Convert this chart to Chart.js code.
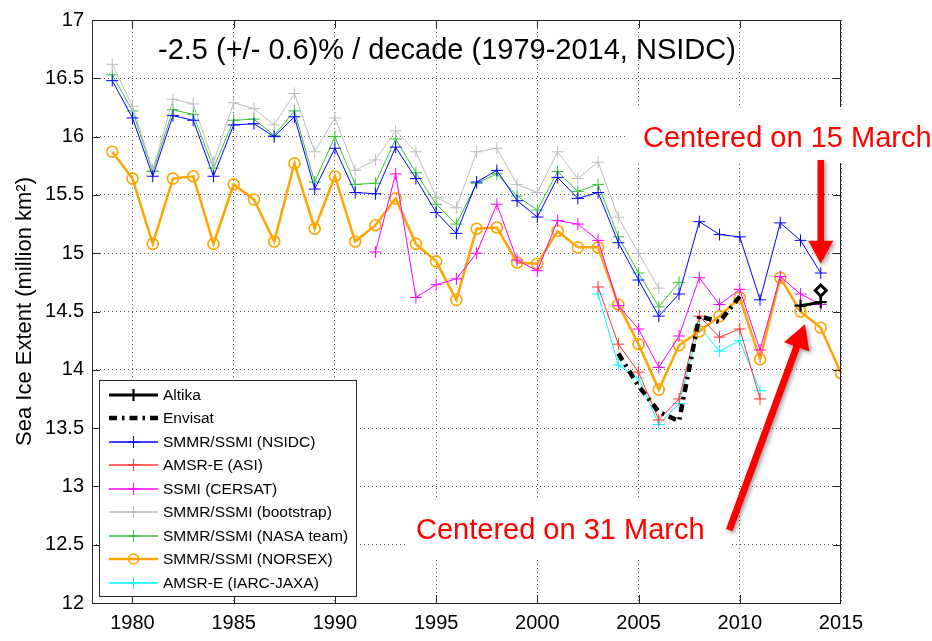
<!DOCTYPE html>
<html>
<head>
<meta charset="utf-8">
<script src="https://cdn.jsdelivr.net/npm/chart.js@4/dist/chart.umd.min.js"></script>
<style>
  html, body { margin: 0; padding: 0; background: #fff; }
  canvas { display: block; }
</style>
</head>
<body>
<canvas id="c" width="932" height="641"></canvas>
<script>
// March sea ice extent (million km²), one value per year
const years = [1979, 1980, 1981, 1982, 1983, 1984, 1985, 1986, 1987, 1988,
               1989, 1990, 1991, 1992, 1993, 1994, 1995, 1996, 1997, 1998,
               1999, 2000, 2001, 2002, 2003, 2004, 2005, 2006, 2007, 2008,
               2009, 2010, 2011, 2012, 2013, 2014, 2015];

const xTicks = [1980, 1985, 1990, 1995, 2000, 2005, 2010, 2015];
const yTicks = [12, 12.5, 13, 13.5, 14, 14.5, 15, 15.5, 16, 16.5, 17];

// 1979–2014
const nsidc = [16.48, 16.16, 15.66, 16.18, 16.14, 15.66, 16.10, 16.11, 16.00, 16.17,
               15.55, 15.90, 15.52, 15.51, 15.91, 15.64, 15.35, 15.17, 15.61, 15.71,
               15.45, 15.31, 15.65, 15.47, 15.52, 15.09, 14.77, 14.46, 14.65, 15.27,
               15.16, 15.14, 14.60, 15.26, 15.11, 14.83];
// 2003–2011
const amsrAsi = [14.71, 14.22, 13.98, 13.57, 13.75, 14.46, 14.28, 14.35, 13.75];
// 1992–2014
const cersat = [15.01, 15.68, 14.62, 14.73, 14.78, 15.00, 15.42, 14.94, 14.85, 15.28,
                15.25, 15.11, 14.55, 14.35, 14.02, 14.29, 14.79, 14.56, 14.69, 14.17,
                14.80, 14.65, 14.56];
// 1979–2006
const bootstrap = [16.62, 16.26, 15.71, 16.32, 16.28, 15.78, 16.29, 16.24, 16.10, 16.37,
                   15.87, 16.16, 15.71, 15.80, 16.05, 15.87, 15.48, 15.39, 15.87, 15.90,
                   15.59, 15.52, 15.87, 15.64, 15.78, 15.31, 15.00, 14.70];
// 1979–2007
const nasaTeam = [16.53, 16.22, 15.70, 16.23, 16.19, 15.73, 16.14, 16.15, 16.01, 16.22,
                  15.61, 16.00, 15.59, 15.60, 15.98, 15.69, 15.42, 15.25, 15.60, 15.68,
                  15.49, 15.37, 15.70, 15.53, 15.59, 15.14, 14.83, 14.54, 14.75];
// 1979–2015
const norsex = [15.87, 15.64, 15.08, 15.64, 15.66, 15.08, 15.59, 15.46, 15.10, 15.77,
                15.21, 15.66, 15.10, 15.24, 15.47, 15.08, 14.93, 14.60, 15.21, 15.22,
                14.92, 14.91, 15.19, 15.05, 15.05, 14.56, 14.22, 13.83, 14.21, 14.33,
                14.46, 14.62, 14.09, 14.79, 14.50, 14.36, 13.97];
// 2003–2011
const amsrJaxa = [14.65, 14.04, 13.93, 13.53, 13.71, 14.37, 14.16, 14.25, 13.82];
// 2004–2010
const envisat = [14.14, 13.86, 13.64, 13.56, 14.46, 14.41, 14.63];
// 2013–2014 (31 March)
const altika = [14.55, 14.58];
// 2014: 31 March value, then 15 March value
const altikaMidYears = [2014, 2014];
const altikaMid = [14.58, 14.68];

function series(startYear, values) {
  const i0 = years.indexOf(startYear);
  return values.map((v, i) => ({ x: years[i0 + i], y: v }));
}

const FONT = '"Liberation Sans", Arial, Helvetica, sans-serif';

function line(label, color, data, extra) {
  return Object.assign({
    label,
    data,
    borderColor: color,
    backgroundColor: color,
    borderWidth: 1,
    pointStyle: 'cross',
    pointRadius: 6,
    pointBorderWidth: 1,
    pointBorderColor: color,
    tension: 0,
    fill: false,
    showLine: true
  }, extra || {});
}

const datasets = [
  line('Altika', '#000000', series(2013, altika), { borderWidth: 3, pointBorderWidth: 2.2, order: 0 }),
  line('Envisat', '#000000', series(2004, envisat), {
    borderWidth: 4.5, borderDash: [8, 5, 2.5, 5], pointRadius: 0, legendMarker: false, order: 2
  }),
  line('SMMR/SSMI (NSIDC)', '#0000ff', series(1979, nsidc), { order: 2 }),
  line('AMSR-E (ASI)', '#ff3333', series(2003, amsrAsi), { order: 2 }),
  line('SSMI (CERSAT)', '#ff00ff', series(1992, cersat), { order: 2 }),
  line('SMMR/SSMI (bootstrap)', '#bdbdbd', series(1979, bootstrap), { order: 2 }),
  line('SMMR/SSMI (NASA team)', '#33c433', series(1979, nasaTeam), { order: 2 }),
  line('SMMR/SSMI (NORSEX)', '#ffa500', series(1979, norsex), {
    borderWidth: 2.5, pointStyle: 'circle', pointRadius: 5.5, pointBorderWidth: 1.6,
    backgroundColor: 'rgba(0,0,0,0)', order: 2
  }),
  line('AMSR-E (IARC-JAXA)', '#00ffff', series(2003, amsrJaxa), { order: 2 }),
  line('Altika 15 March', '#000000',
       altikaMid.map((v, i) => ({ x: altikaMidYears[i], y: v })), {
    borderWidth: 2.5, pointStyle: 'rectRot', pointRadius: [0, 5.5],
    pointBorderWidth: 3, backgroundColor: '#ffffff', inLegend: false, order: 1
  })
];

function drawMarker(ctx, style, x, y, r, color, w) {
  ctx.save();
  ctx.strokeStyle = color;
  ctx.lineWidth = w;
  ctx.setLineDash([]);
  ctx.beginPath();
  if (style === 'circle') {
    ctx.arc(x, y, r, 0, Math.PI * 2);
  } else {
    ctx.moveTo(x - r, y); ctx.lineTo(x + r, y);
    ctx.moveTo(x, y - r); ctx.lineTo(x, y + r);
  }
  ctx.stroke();
  ctx.restore();
}

function arrow(ctx, x0, y0, x1, y1, shaftW, headL, headW) {
  const dx = x1 - x0, dy = y1 - y0, L = Math.hypot(dx, dy);
  const ux = dx / L, uy = dy / L, nx = -uy, ny = ux;
  const bx = x1 - ux * headL, by = y1 - uy * headL;
  ctx.beginPath();
  ctx.moveTo(x0 + nx * shaftW / 2, y0 + ny * shaftW / 2);
  ctx.lineTo(bx + nx * shaftW / 2, by + ny * shaftW / 2);
  ctx.lineTo(bx + nx * headW / 2, by + ny * headW / 2);
  ctx.lineTo(x1, y1);
  ctx.lineTo(bx - nx * headW / 2, by - ny * headW / 2);
  ctx.lineTo(bx - nx * shaftW / 2, by - ny * shaftW / 2);
  ctx.lineTo(x0 - nx * shaftW / 2, y0 - ny * shaftW / 2);
  ctx.closePath();
  ctx.fill();
}

const decor = {
  id: 'decor',
  beforeDraw(chart) {
    const c = chart.ctx;
    c.save();
    c.fillStyle = '#ffffff';
    c.fillRect(0, 0, chart.width, chart.height);
    c.restore();
  },
  afterDraw(chart) {
    const ctx = chart.ctx, a = chart.chartArea;
    const xs = chart.scales.x, ys = chart.scales.y;
    ctx.save();

    // inward tick marks on all four sides, then the axes box
    ctx.strokeStyle = '#262626';
    ctx.lineWidth = 1;
    ctx.setLineDash([]);
    ctx.beginPath();
    xTicks.forEach(v => {
      const px = Math.round(xs.getPixelForValue(v)) + 0.5;
      if (px < a.left + 2 || px > a.right - 2) return;
      ctx.moveTo(px, a.bottom); ctx.lineTo(px, a.bottom - 8);
      ctx.moveTo(px, a.top); ctx.lineTo(px, a.top + 8);
    });
    yTicks.forEach(v => {
      const py = Math.round(ys.getPixelForValue(v)) + 0.5;
      if (py < a.top + 2 || py > a.bottom - 2) return;
      ctx.moveTo(a.left, py); ctx.lineTo(a.left + 8, py);
      ctx.moveTo(a.right, py); ctx.lineTo(a.right - 8, py);
    });
    ctx.stroke();
    ctx.strokeRect(Math.round(a.left) + 0.5, Math.round(a.top) + 0.5,
                   Math.round(a.right - a.left) - 1, Math.round(a.bottom - a.top));

    // trend caption
    ctx.fillStyle = '#000000';
    ctx.font = '29px ' + FONT;
    ctx.textAlign = 'left';
    ctx.textBaseline = 'alphabetic';
    ctx.fillText('-2.5 (+/- 0.6)% / decade (1979-2014, NSIDC)', 158, 59);

    // red notes on white boxes
    ctx.fillStyle = '#ffffff';
    ctx.fillRect(625, 107, 307, 56);
    ctx.fillRect(405, 499, 326, 58);
    ctx.fillStyle = '#ff0000';
    ctx.fillText('Centered on 15 March', 643, 147);
    ctx.fillText('Centered on 31 March', 416, 539);

    // arrows with a soft drop shadow
    ctx.save();
    ctx.fillStyle = '#ff0000';
    ctx.shadowColor = 'rgba(0,0,0,0.38)';
    ctx.shadowBlur = 4;
    ctx.shadowOffsetX = 2;
    ctx.shadowOffsetY = 2;
    arrow(ctx, xs.getPixelForValue(2014), ys.getPixelForValue(15.80),
               xs.getPixelForValue(2014), ys.getPixelForValue(14.91), 6.5, 23, 25);
    arrow(ctx, xs.getPixelForValue(2009.48), ys.getPixelForValue(12.625),
               xs.getPixelForValue(2013.22), ys.getPixelForValue(14.39), 7, 24, 27);
    ctx.restore();

    // legend box
    const L = { x: 99.5, y: 380.5, w: 257, h: 216, row0: 394.5, step: 23.5 };
    ctx.fillStyle = '#ffffff';
    ctx.fillRect(L.x, L.y, L.w, L.h);
    ctx.strokeStyle = '#262626';
    ctx.lineWidth = 1;
    ctx.setLineDash([]);
    ctx.strokeRect(L.x, L.y, L.w, L.h);
    ctx.font = '15.5px ' + FONT;
    ctx.textBaseline = 'middle';
    let row = 0;
    chart.data.datasets.forEach(ds => {
      if (ds.inLegend === false) return;
      const yText = L.row0 + row * L.step;
      const y = Math.round(yText);
      row++;
      ctx.save();
      ctx.strokeStyle = ds.borderColor;
      ctx.lineWidth = ds.borderWidth === 1 ? 1.3 : ds.borderWidth;
      ctx.setLineDash(ds.borderDash || []);
      ctx.beginPath();
      ctx.moveTo(109, y);
      ctx.lineTo(158, y);
      ctx.stroke();
      ctx.restore();
      if (ds.legendMarker !== false) {
        drawMarker(ctx, ds.pointStyle, 133.5, y, ds.pointStyle === 'circle' ? 5 : 6,
                   ds.borderColor, ds.pointBorderWidth);
      }
      ctx.fillStyle = '#000000';
      ctx.fillText(ds.label, 163, yText + 1);
    });

    ctx.restore();
  }
};

const tickFont = { family: FONT, size: 20 };

new Chart(document.getElementById('c'), {
  type: 'line',
  data: { datasets },
  options: {
    responsive: false,
    devicePixelRatio: 1,
    animation: false,
    layout: { padding: { top: 13, right: 91, bottom: 0, left: 0 } },
    plugins: { legend: { display: false }, tooltip: { enabled: false } },
    scales: {
      x: {
        type: 'linear',
        min: 1978,
        max: 2015,
        afterBuildTicks: axis => { axis.ticks = xTicks.map(v => ({ value: v })); },
        afterFit: axis => { axis.height = 38; },
        ticks: {
          font: tickFont, color: '#000000', padding: 8,
          maxRotation: 0, autoSkip: false,
          callback: v => String(v)
        },
        grid: { color: '#5a5a5a', lineWidth: 1, drawTicks: false },
        border: { display: false, dash: [1, 3] }
      },
      y: {
        type: 'linear',
        min: 12,
        max: 17,
        afterBuildTicks: axis => { axis.ticks = yTicks.map(v => ({ value: v })); },
        afterFit: axis => { axis.width = 92; },
        ticks: {
          font: tickFont, color: '#000000', padding: 8,
          autoSkip: false,
          callback: v => String(v)
        },
        grid: { color: '#5a5a5a', lineWidth: 1, drawTicks: false },
        border: { display: false, dash: [1, 3] },
        title: {
          display: true,
          text: 'Sea Ice Extent (million km²)',
          font: { family: FONT, size: 22 },
          color: '#000000',
          padding: { top: 12, bottom: 0 }
        }
      }
    }
  },
  plugins: [decor]
});
</script>
</body>
</html>
